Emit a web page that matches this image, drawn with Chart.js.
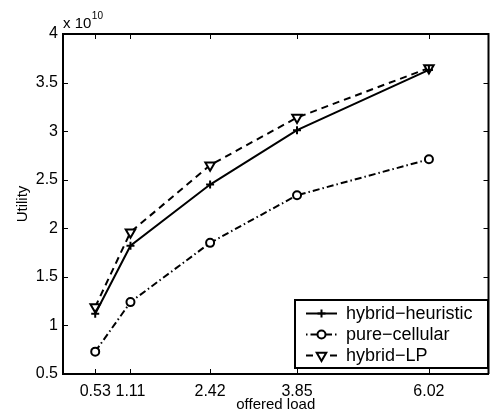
<!DOCTYPE html>
<html><head><meta charset="utf-8">
<script src="https://cdn.jsdelivr.net/npm/chart.js@4.4.1/dist/chart.umd.min.js"></script>
<style>
html,body{margin:0;padding:0;background:#fff;overflow:hidden}
#wrap{width:493px;height:412px;overflow:hidden;position:relative}
canvas{display:block}
</style>
</head><body>
<div id="wrap"><canvas id="c" width="496" height="412" style="width:496px;height:412px"></canvas></div>
<script>
// ---- data (utility in units of 1e10) ----
const offeredLoad = [0.53, 1.11, 2.42, 3.85, 6.02];
const xTickLabels = ['0.53', '1.11', '2.42', '3.85', '6.02'];
const yTickValues = [0.5, 1, 1.5, 2, 2.5, 3, 3.5, 4];
const hybridHeuristic = [1.12, 1.82, 2.45, 3.01, 3.63];
const pureCellular = [0.73, 1.24, 1.85, 2.34, 2.71];
const hybridLP = [1.19, 1.96, 2.65, 3.14, 3.65];
const seriesNames = ['hybrid\u2212heuristic', 'pure\u2212cellular', 'hybrid\u2212LP'];
const exponentText = ['x 10', '10'];
const xTitle = 'offered load';
const yTitle = 'Utility';

const FONT = '"Liberation Sans", Arial, Helvetica, sans-serif';
const toPts = arr => offeredLoad.map((x, i) => ({x: x, y: arr[i]}));

// inward ticks on all four sides + top/right box lines + exponent label + legend
const boxPlugin = {
  id: 'boxPlugin',
  afterDatasetsDraw(chart) {
    const {ctx, chartArea: a, scales} = chart;
    ctx.save();
    ctx.strokeStyle = '#000';
    ctx.lineWidth = 2;
    ctx.beginPath();
    ctx.moveTo(a.left - 1, a.top); ctx.lineTo(a.right, a.top);
    ctx.lineTo(a.right, a.bottom);
    ctx.stroke();
    ctx.lineWidth = 1;
    const tl = 5;
    ctx.beginPath();
    scales.x.ticks.forEach(t => {
      const px = Math.round(scales.x.getPixelForValue(t.value)) + 0.5;
      ctx.moveTo(px, a.bottom); ctx.lineTo(px, a.bottom - tl);
      ctx.moveTo(px, a.top); ctx.lineTo(px, a.top + tl);
    });
    scales.y.ticks.forEach(t => {
      const py = Math.round(scales.y.getPixelForValue(t.value)) + 0.5;
      ctx.moveTo(a.left, py); ctx.lineTo(a.left + tl, py);
      ctx.moveTo(a.right, py); ctx.lineTo(a.right - tl, py);
    });
    ctx.stroke();
    ctx.fillStyle = '#000';
    ctx.textBaseline = 'alphabetic';
    ctx.textAlign = 'left';
    ctx.font = '15px ' + FONT;
    ctx.fillText(exponentText[0], a.left, 28);
    const w = ctx.measureText(exponentText[0]).width;
    ctx.font = '10px ' + FONT;
    ctx.fillText(exponentText[1], a.left + w + 0.5, 19);
    ctx.restore();
  },
  afterDraw(chart) {
    const {ctx} = chart;
    const bx = 295, by = 300, bw = 193, bh = 68;
    ctx.save();
    ctx.fillStyle = '#fff';
    ctx.fillRect(bx, by, bw, bh);
    ctx.strokeStyle = '#000';
    ctx.lineWidth = 2;
    ctx.strokeRect(bx, by, bw, bh);
    chart.data.datasets.forEach((ds, i) => {
      const cy = by + 13.5 + i * 21;
      ctx.lineWidth = ds.borderWidth;
      ctx.strokeStyle = ds.borderColor;
      ctx.setLineDash(ds.borderDash || []);
      ctx.lineDashOffset = ds.legendDashOffset || 0;
      ctx.beginPath();
      ctx.moveTo(306, cy); ctx.lineTo(337, cy);
      ctx.stroke();
      ctx.setLineDash([]);
      const mx = 321.5, r = ds.pointRadius;
      ctx.lineWidth = ds.pointBorderWidth;
      ctx.fillStyle = ds.pointBackgroundColor;
      ctx.beginPath();
      if (ds.pointStyle === 'cross') {
        ctx.moveTo(mx - r, cy); ctx.lineTo(mx + r, cy);
        ctx.moveTo(mx, cy - r); ctx.lineTo(mx, cy + r);
        ctx.stroke();
      } else if (ds.pointStyle === 'circle') {
        ctx.arc(mx, cy, r, 0, Math.PI * 2);
        ctx.fill(); ctx.stroke();
      } else {
        const s = r * Math.sqrt(3) / 2;
        ctx.moveTo(mx - s, cy - r / 2); ctx.lineTo(mx + s, cy - r / 2); ctx.lineTo(mx, cy + r);
        ctx.closePath(); ctx.fill(); ctx.stroke();
      }
      ctx.fillStyle = '#000';
      ctx.font = '18px ' + FONT;
      ctx.textBaseline = 'middle';
      ctx.textAlign = 'left';
      ctx.fillText(ds.label, 346, cy + 1);
    });
    ctx.restore();
  }
};

new Chart(document.getElementById('c'), {
  type: 'line',
  data: {
    datasets: [
      {label: seriesNames[0], data: toPts(hybridHeuristic), borderColor: '#000', borderWidth: 2,
       pointStyle: 'cross', pointRadius: 4, pointBorderWidth: 2, pointBackgroundColor: '#000', pointBorderColor: '#000'},
      {label: seriesNames[1], data: toPts(pureCellular), borderColor: '#000', borderWidth: 2, borderDash: [7, 3, 1.5, 3],
       legendDashOffset: 10,
       pointStyle: 'circle', pointRadius: 4, pointBorderWidth: 2, pointBackgroundColor: '#fff', pointBorderColor: '#000'},
      {label: seriesNames[2], data: toPts(hybridLP), borderColor: '#000', borderWidth: 2, borderDash: [7, 5],
       pointStyle: 'triangle', pointRotation: 180, pointRadius: 5.5, pointBorderWidth: 2, pointBackgroundColor: '#fff', pointBorderColor: '#000'}
    ]
  },
  options: {
    responsive: false,
    animation: false,
    events: [],
    layout: {padding: {left: 0, top: 34, right: 2, bottom: 0}},
    elements: {line: {tension: 0, fill: false}},
    plugins: {legend: {display: false}, tooltip: {enabled: false}},
    scales: {
      x: {
        type: 'linear', min: 0, max: 7,
        afterBuildTicks: s => { s.ticks = offeredLoad.map(v => ({value: v})); },
        afterFit: s => { s.height = 38; },
        ticks: {autoSkip: false, maxRotation: 0, padding: 8, color: '#000',
                font: {family: FONT, size: 16},
                callback: (v) => xTickLabels[offeredLoad.indexOf(v)] ?? ''},
        grid: {display: false, drawTicks: false},
        border: {display: true, color: '#000', width: 2},
        title: {display: true, text: xTitle, color: '#000', font: {family: FONT, size: 15, lineHeight: 1}, padding: {top: 0, bottom: 0}}
      },
      y: {
        type: 'linear', min: 0.5, max: 4,
        afterBuildTicks: s => { s.ticks = yTickValues.map(v => ({value: v})); },
        afterFit: s => { s.width = 63; },
        ticks: {padding: 5, color: '#000', font: {family: FONT, size: 16},
                callback: v => String(v)},
        grid: {display: false, drawTicks: false},
        border: {display: true, color: '#000', width: 2},
        title: {display: true, text: yTitle, color: '#000', font: {family: FONT, size: 15}, padding: {top: 14, bottom: 0}}
      }
    }
  },
  plugins: [boxPlugin]
});
</script>
</body></html>
